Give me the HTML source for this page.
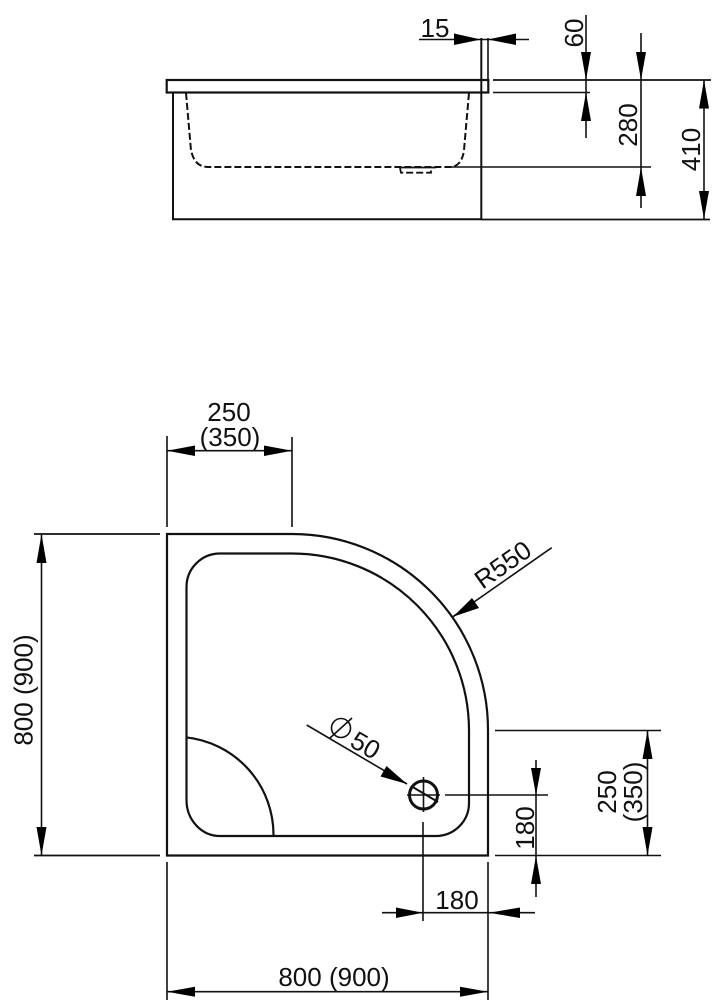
<!DOCTYPE html>
<html>
<head>
<meta charset="utf-8">
<style>
html,body{margin:0;padding:0;background:#fff}
svg{display:block}
text{font-family:"Liberation Sans",sans-serif;font-size:26px;fill:#111;text-anchor:middle}
</style>
</head>
<body>
<svg width="713" height="1000" viewBox="0 0 713 1000" xmlns="http://www.w3.org/2000/svg">
<rect width="713" height="1000" fill="#fff"/>
<g fill="none" stroke="#111" stroke-width="1.6">
  <!-- side view -->
  <rect x="166.7" y="80" width="321.6" height="12.5" stroke-width="2.2"/>
  <path d="M173 92.5V219M172 219.3H481" stroke-width="2"/>
  <path d="M481.3 38V219.5" stroke-width="2"/>
  <path d="M488 38V80"/>
  <path d="M186 93L190.7 147C192 160 198 167 208 167H450C458 167 463 160 464 150L469 93" stroke-width="2" stroke-dasharray="7 3"/>
  <path d="M400 168L401 172.7H431V168" stroke-width="1.8" stroke-dasharray="7 3"/>
  <path d="M400 167.5H436" stroke-width="1.8"/>
  <path d="M419 39.5H529"/>
  <path d="M493 80H711" stroke-width="1.8"/>
  <path d="M493 92.5H590"/>
  <path d="M450 167H651"/>
  <path d="M586 15V138"/>
  <path d="M641 33V208"/>
  <path d="M704 80V219"/>
  <path d="M481 219.5H710" stroke-width="1.8"/>

  <!-- plan view -->
  <path d="M167 534H292A196 196 0 0 1 488 730V855.5H167Z" stroke-width="2.2"/>
  <path d="M220 553.5H292A177 177 0 0 1 469 730.5V803A33 33 0 0 1 436 836H220A33.5 36 0 0 1 186.5 800V587A33.5 33.5 0 0 1 220 553.5Z" stroke-width="2.2"/>
  <path d="M185.7 737.3A98 98 0 0 1 273.5 836" stroke-width="2.2"/>

  <!-- drain -->
  <circle cx="423.5" cy="795" r="14" stroke-width="3"/>
  <path d="M407 795H440M423.5 777V812"/>
  <path d="M411 786L438 802" stroke-width="2"/>
  <path d="M445 795H548"/>
  <path d="M423 822V921"/>

  <!-- 250 top -->
  <path d="M167 436V527M292 437V527M167 450.7H292"/>
  <!-- left 800 -->
  <path d="M34 534H160M34 855.5H160" stroke-width="1.8"/>
  <path d="M41.5 534V855.5"/>
  <path d="M167 862V1000M488 862V1000M167 991.7H488"/>
  <!-- right -->
  <path d="M495 730.5H661M495 855.5H661"/>
  <path d="M647.5 730.5V855.5"/>
  <path d="M536 760V897"/>
  <!-- 180 horiz -->
  <path d="M382 912.7H535"/>
  <!-- leaders -->
  <path d="M551.7 547.7L453 616.7"/>
  <path d="M306.7 725L407 784"/>
  <!-- diameter symbol -->
  <circle cx="341" cy="728" r="9.5"/>
  <path d="M330 738L352 718"/>
</g>
<g fill="#000" stroke="none">
  <!-- 15 -->
  <polygon points="481,39.5 454,33.5 454,45"/>
  <polygon points="488,39.5 516,33.5 516,45"/>
  <!-- 60 -->
  <polygon points="586,80 581,52 591,52"/>
  <polygon points="586,92.5 581,121 591,121"/>
  <!-- 280 -->
  <polygon points="641,80 636,52 646,52"/>
  <polygon points="641,167 636,196 646,196"/>
  <!-- 410 -->
  <polygon points="704,80 699,108.5 709,108.5"/>
  <polygon points="704,219 699,191 709,191"/>
  <!-- 250 top -->
  <polygon points="167,450.7 195,445.5 195,456"/>
  <polygon points="292,450.7 264,445.5 264,456"/>
  <!-- 800 left -->
  <polygon points="41.5,534 36.5,563 46.5,563"/>
  <polygon points="41.5,855.5 36.5,827 46.5,827"/>
  <!-- 800 bottom -->
  <polygon points="167,991.7 195,986.7 195,996.7"/>
  <polygon points="488,991.7 460,986.7 460,996.7"/>
  <!-- 180 h -->
  <polygon points="423,912.7 396,907.5 396,918"/>
  <polygon points="489,912.7 520,907.5 520,918"/>
  <!-- 180 v -->
  <polygon points="536,795 531,768 541,768"/>
  <polygon points="536,856 531,884 541,884"/>
  <!-- 250 right -->
  <polygon points="647.5,730.5 642.5,759 652.5,759"/>
  <polygon points="647.5,855.5 642.5,827 652.5,827"/>
  <!-- R550 -->
  <polygon points="453,616.7 472,598 479,608"/>
  <!-- dia 50 -->
  <polygon points="407,784 380.5,776.5 386.5,766"/>
</g>
<text x="435" y="37">15</text>
<text transform="translate(583,33) rotate(-90)">60</text>
<text transform="translate(637,125) rotate(-90)">280</text>
<text transform="translate(700,149.5) rotate(-90)">410</text>
<text x="229" y="421">250</text>
<text x="230" y="446">(350)</text>
<text transform="translate(32.5,690) rotate(-90)">800 (900)</text>
<text x="334" y="986">800 (900)</text>
<text x="457" y="909">180</text>
<text transform="translate(534,828) rotate(-90)">180</text>
<text transform="translate(616,792) rotate(-90)">250</text>
<text transform="translate(642,792) rotate(-90)">(350)</text>
<text transform="translate(508,572) rotate(-35)">R550</text>
<text transform="translate(361,753) rotate(30)">50</text>
</svg>
</body>
</html>
